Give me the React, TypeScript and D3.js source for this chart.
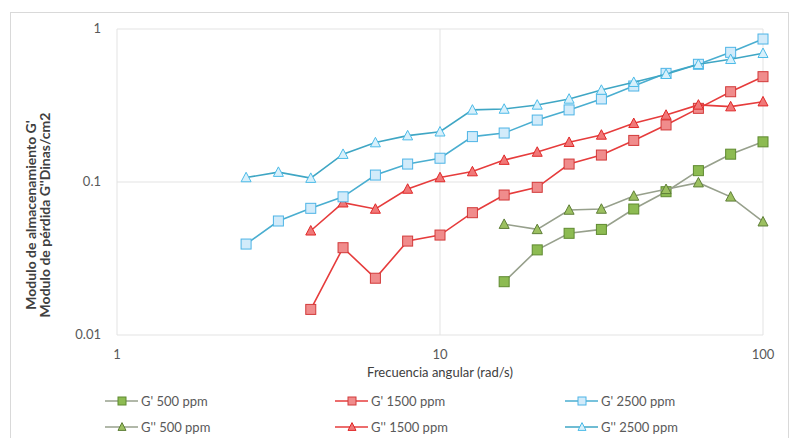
import React from 'react';
import * as d3 from 'd3';

// angular frequency points (rad/s), shared by all series
const freq = [2.51, 3.16, 3.98, 5.01, 6.31, 7.94, 10, 12.6, 15.8, 20, 25.1, 31.6, 39.8, 50.1, 63.1, 79.4, 100];

const gp500 = [null, null, null, null, null, null, null, null, 0.0223, 0.036, 0.0462, 0.049, 0.0666, 0.0864, 0.1186, 0.152, 0.183];
const gpp500 = [null, null, null, null, null, null, null, null, 0.053, 0.049, 0.0656, 0.0666, 0.081, 0.0896, 0.099, 0.08, 0.055];
const gp1500 = [null, null, 0.0147, 0.0372, 0.0235, 0.0411, 0.045, 0.063, 0.0822, 0.0923, 0.131, 0.15, 0.187, 0.236, 0.303, 0.389, 0.488];
const gpp1500 = [null, null, 0.048, 0.0732, 0.0666, 0.09, 0.107, 0.117, 0.139, 0.157, 0.182, 0.203, 0.242, 0.274, 0.319, 0.311, 0.335];
const gp2500 = [0.0393, 0.0556, 0.0673, 0.08, 0.111, 0.131, 0.143, 0.198, 0.209, 0.254, 0.296, 0.349, 0.424, 0.513, 0.588, 0.704, 0.86];
const gpp2500 = [0.107, 0.116, 0.106, 0.152, 0.181, 0.201, 0.213, 0.296, 0.3, 0.319, 0.349, 0.399, 0.449, 0.506, 0.588, 0.634, 0.694];

const xTicks = [1, 10, 100];
const yTicks = [0.01, 0.1, 1];

const series = [
  { name: "G' 500 ppm", values: gp500, shape: 'square', line: '#97a08c', fill: '#8dbb52', stroke: '#5f8a30' },
  { name: "G'' 500 ppm", values: gpp500, shape: 'triangle', line: '#97a08c', fill: '#9cc060', stroke: '#5f7f38' },
  { name: "G' 1500 ppm", values: gp1500, shape: 'square', line: '#e63c3c', fill: '#f08c8c', stroke: '#d23a3a' },
  { name: "G'' 1500 ppm", values: gpp1500, shape: 'triangle', line: '#e63c3c', fill: '#f07878', stroke: '#e02828' },
  { name: "G' 2500 ppm", values: gp2500, shape: 'square', line: '#4aaed0', fill: '#d2ebfa', stroke: '#4db4e6' },
  { name: "G'' 2500 ppm", values: gpp2500, shape: 'triangle', line: '#3fa6c4', fill: '#d8f0fb', stroke: '#4cbbe8' },
];

const font = 'Lato, "Open Sans", sans-serif';

function Marker({ shape, x, y, fill, stroke, size = 10 }) {
  if (shape === 'square') {
    return <rect x={x - size / 2} y={y - size / 2} width={size} height={size} fill={fill} stroke={stroke} strokeWidth={1} />;
  }
  const h = size * 0.85;
  const pts = `${x},${y - h / 2 - 1} ${x + size / 2},${y + h / 2} ${x - size / 2},${y + h / 2}`;
  return <polygon points={pts} fill={fill} stroke={stroke} strokeWidth={1} />;
}

export default function App() {
  const width = 792;
  const height = 438;

  const x = d3.scaleLog().domain([1, 100]).range([117, 763]);
  const y = d3.scaleLog().domain([0.01, 1]).range([335, 29]);

  const line = d3.line<[number, number | null]>()
    .defined(d => d[1] != null)
    .x(d => x(d[0]))
    .y(d => y(d[1] as number));

  const legendCols = [105, 335, 565];
  const legendRows = [401, 427];

  return (
    <div style={{ position: 'fixed', left: 0, top: 0 }}>
      <svg width={width} height={height} style={{ display: 'block', background: '#fff' }}>
        {/* chart area border */}
        <rect x={10.5} y={12.5} width={778} height={430} fill="none" stroke="#d9d9d9" />

        {/* gridlines */}
        {yTicks.map(t => (
          <line key={'gy' + t} x1={x(1)} x2={x(100)} y1={y(t)} y2={y(t)} stroke="#e3e3e3" />
        ))}
        {xTicks.map(t => (
          <line key={'gx' + t} x1={x(t)} x2={x(t)} y1={y(1)} y2={y(0.01)} stroke="#e3e3e3" />
        ))}

        {/* tick labels */}
        {yTicks.map(t => (
          <text key={'ty' + t} x={101} y={y(t) + 4} textAnchor="end" fontFamily={font} fontSize={13} fill="#595959">
            {t}
          </text>
        ))}
        {xTicks.map(t => (
          <text key={'tx' + t} x={x(t)} y={359} textAnchor="middle" fontFamily={font} fontSize={13} fill="#595959">
            {t}
          </text>
        ))}

        {/* axis titles */}
        <text x={x(10)} y={377} textAnchor="middle" fontFamily={font} fontSize={13} fill="#404040">
          Frecuencia angular (rad/s)
        </text>
        <g transform="translate(36, 215) rotate(-90)">
          <text x={0} y={0} textAnchor="middle" fontFamily={font} fontSize={14} fontWeight="bold" fill="#404040">
            Modulo de almacenamiento G'
          </text>
          <text x={0} y={14} textAnchor="middle" fontFamily={font} fontSize={14} fontWeight="bold" fill="#404040">
            Modulo de pérdida G''Dinas/cm2
          </text>
        </g>

        {/* series */}
        {series.map(s => {
          const pts = freq.map((f, i) => [f, s.values[i]] as [number, number | null]);
          return (
            <g key={s.name}>
              <path d={line(pts) || ''} fill="none" stroke={s.line} strokeWidth={1.6} />
              {pts.filter(p => p[1] != null).map((p, i) => (
                <Marker key={i} shape={s.shape} x={x(p[0])} y={y(p[1] as number)} fill={s.fill} stroke={s.stroke} />
              ))}
            </g>
          );
        })}

        {/* legend */}
        {series.map((s, i) => {
          const lx = legendCols[Math.floor(i / 2)];
          const ly = legendRows[i % 2];
          return (
            <g key={'lg' + s.name}>
              <line x1={lx} x2={lx + 33} y1={ly} y2={ly} stroke={s.line} strokeWidth={1.6} />
              <Marker shape={s.shape} x={lx + 17} y={ly} fill={s.fill} stroke={s.stroke} size={8} />
              <text x={lx + 36} y={ly + 4.5} fontFamily={font} fontSize={13} fill="#595959">
                {s.name}
              </text>
            </g>
          );
        })}
      </svg>
    </div>
  );
}
